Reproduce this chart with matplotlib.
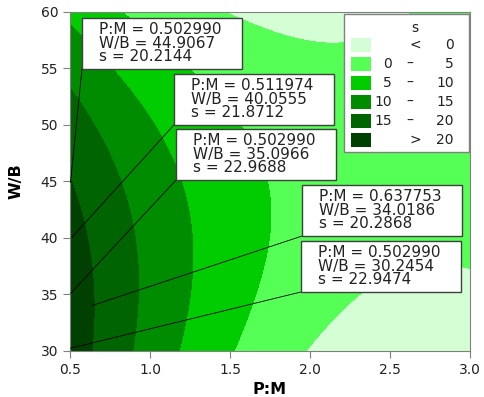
import matplotlib
matplotlib.use("Agg")
import matplotlib.pyplot as plt
from matplotlib.patches import Rectangle
import numpy as np

# response surface estimated from the contour crossings of the chart:
# s = peak(P:M) - curv * (W/B - ridge(P:M))**2,  u = P:M - 0.5
peak_coef = [23.06, -21.11, 5.36]   # peak value along the ridge, in u, u^2
ridge_coef = [32.68, 7.5]           # W/B of the ridge, in u
curv = 0.019

# labelled points
lab_pm = [0.502990, 0.511974, 0.502990, 0.637753, 0.502990]
lab_wb = [44.9067, 40.0555, 35.0966, 34.0186, 30.2454]
lab_s = [20.2144, 21.8712, 22.9688, 20.2868, 22.9474]
# box lower-left corners (axes fraction)
box_x = [0.03, 0.26, 0.265, 0.58, 0.5775]
box_y = [0.832, 0.667, 0.504, 0.339, 0.174]

levels = [-100, 0, 5, 10, 15, 20, 100]
colors = ['#d4ffd4', '#55ff55', '#00cc00', '#008c00', '#006400', '#004000']
leg_lo = ['', '0', '5', '10', '15', '']
leg_sym = ['<', '–', '–', '–', '–', '>']
leg_hi = ['0', '5', '10', '15', '20', '20']

gx, gy = np.meshgrid(np.linspace(0.5, 3.0, 400), np.linspace(30, 60, 400))
u = gx - 0.5
peak = peak_coef[0] + peak_coef[1]*u + peak_coef[2]*u**2
ridge = ridge_coef[0] + ridge_coef[1]*u
gs = peak - curv*(gy - ridge)**2

fig = plt.figure(figsize=(4.84, 3.97), dpi=100)
ax = fig.add_axes([0.1446, 0.1159, 0.8264, 0.8539])
ax.contourf(gx, gy, gs, levels=levels, colors=colors)
ax.set_xlim(0.5, 3.0)
ax.set_ylim(30, 60)
ax.set_xticks([0.5, 1.0, 1.5, 2.0, 2.5, 3.0])
ax.set_xticklabels(['0.5', '1.0', '1.5', '2.0', '2.5', '3.0'])
ax.set_yticks([30, 35, 40, 45, 50, 55, 60])
for sp in ax.spines.values():
    sp.set_color('#808080')
ax.tick_params(direction='out', length=5, color='#808080',
               labelsize=10, labelcolor='#222222')
ax.set_xlabel('P:M', fontsize=11.5, fontweight='bold', labelpad=4)
ax.set_ylabel('W/B', fontsize=11.5, fontweight='bold', labelpad=12)

bw, bh = 0.4, 0.15
for i in range(len(lab_pm)):
    ax.annotate('', xy=(lab_pm[i], lab_wb[i]), xycoords='data',
                xytext=(box_x[i], box_y[i]), textcoords='axes fraction',
                arrowprops=dict(arrowstyle='-', lw=0.6, color='black',
                                shrinkA=0, shrinkB=0))
    ax.add_patch(Rectangle((box_x[i], box_y[i]), bw, bh, transform=ax.transAxes,
                           facecolor='white', edgecolor='#404040', lw=1, zorder=5))
    txt = 'P:M = %.6f\nW/B = %.4f\ns = %.4f' % (lab_pm[i], lab_wb[i], lab_s[i])
    ax.text(box_x[i] + 0.043, box_y[i] + bh - 0.012, txt, transform=ax.transAxes,
            fontsize=11, va='top', ha='left', linespacing=0.88,
            color='#222222', zorder=6)

# legend
ax.add_patch(Rectangle((0.685, 0.587), 0.3125, 0.407, transform=ax.transAxes,
                       facecolor='white', edgecolor='#808080', lw=1, zorder=5))
ax.text(0.8625, 0.953, 's', transform=ax.transAxes, fontsize=10,
        ha='center', va='center', color='#222222', zorder=6)
for k in range(len(colors)):
    yy = 0.9027 - 0.056*k
    ax.add_patch(Rectangle((0.7025, yy - 0.0206), 0.05, 0.0413,
                           transform=ax.transAxes, facecolor=colors[k],
                           edgecolor='none', zorder=6))
    ax.text(0.805, yy, leg_lo[k], transform=ax.transAxes, fontsize=10,
            ha='right', va='center', color='#222222', zorder=6)
    ax.text(0.85 if leg_lo[k] else 0.8625, yy, leg_sym[k],
            transform=ax.transAxes, fontsize=10,
            ha='center', va='center', color='#222222', zorder=6)
    ax.text(0.96, yy, leg_hi[k], transform=ax.transAxes, fontsize=10,
            ha='right', va='center', color='#222222', zorder=6)

fig.savefig('out.png', dpi=100)
